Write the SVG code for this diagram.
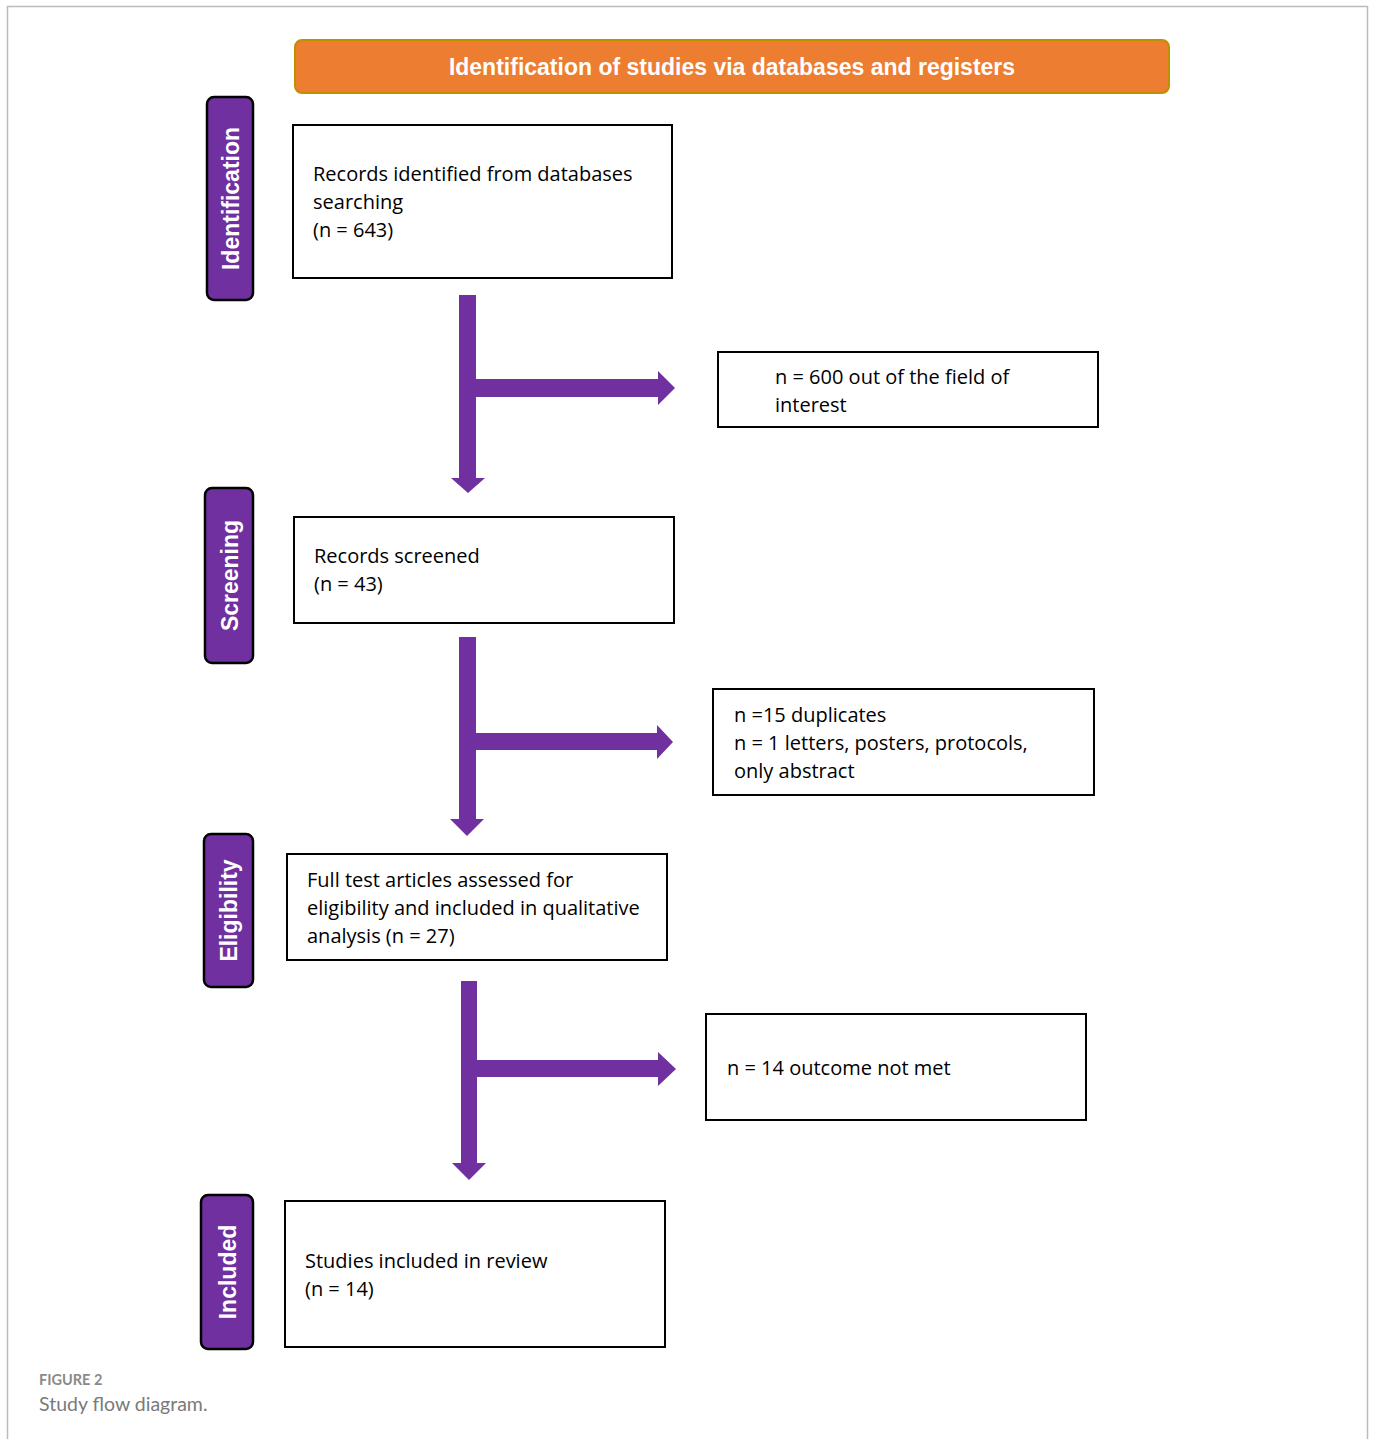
<svg xmlns="http://www.w3.org/2000/svg" width="1373" height="1439" viewBox="0 0 1373 1439">
<style>
.box{fill:#fff;stroke:#000;stroke-width:2}
.side{fill:#7030a0;stroke:#000;stroke-width:2.5}
.side-t{fill:#fff;font-family:"Liberation Sans",Arial,sans-serif;font-weight:bold;font-size:23px;text-anchor:middle}
.t{fill:#000;font-family:"Open Sans","Noto Sans",sans-serif;font-size:20px}
.arrow{fill:#7030a0}
</style>
<rect x="0" y="0" width="1373" height="1439" fill="#fff"/>
<path d="M7.5 1439 V6.5 H1367.5 V1439" fill="none" stroke="#bbb" stroke-width="1.5"/>
<g id="header">
<rect x="295" y="40" width="874" height="53" rx="7" fill="#ed7d31" stroke="#bf9000" stroke-width="2"/>
<text x="732" y="75" fill="#fff" font-family="Liberation Sans,Arial,sans-serif" font-weight="bold" font-size="23" text-anchor="middle">Identification of studies via databases and registers</text>
</g>
<g id="stage-identification">
<rect class="side" x="207" y="97" width="46" height="203" rx="7"/>
<text class="side-t" transform="translate(238.5,198.5) rotate(-90)">Identification</text>
</g>
<g id="stage-screening">
<rect class="side" x="205" y="488" width="48" height="175" rx="7"/>
<text class="side-t" transform="translate(237.5,575.5) rotate(-90)">Screening</text>
</g>
<g id="stage-eligibility">
<rect class="side" x="204" y="834" width="49" height="153" rx="7"/>
<text class="side-t" transform="translate(237,910.5) rotate(-90)">Eligibility</text>
</g>
<g id="stage-included">
<rect class="side" x="201" y="1195" width="52" height="154" rx="7"/>
<text class="side-t" transform="translate(235.5,1272) rotate(-90)">Included</text>
</g>
<g id="records-identified">
<rect class="box" x="293" y="125" width="379" height="153"/>
<text class="t" x="313" y="181">Records identified from databases</text>
<text class="t" x="313" y="209">searching</text>
<text class="t" x="313" y="237">(n = 643)</text>
</g>
<g id="excluded-field">
<rect class="box" x="718" y="352" width="380" height="75"/>
<text class="t" x="775" y="384">n = 600 out of the field of</text>
<text class="t" x="775" y="412">interest</text>
</g>
<g id="records-screened">
<rect class="box" x="294" y="517" width="380" height="106"/>
<text class="t" x="314" y="563">Records screened</text>
<text class="t" x="314" y="591">(n = 43)</text>
</g>
<g id="excluded-duplicates">
<rect class="box" x="713" y="689" width="381" height="106"/>
<text class="t" x="734" y="722">n =15 duplicates</text>
<text class="t" x="734" y="750">n = 1 letters, posters, protocols,</text>
<text class="t" x="734" y="778">only abstract</text>
</g>
<g id="full-text">
<rect class="box" x="287" y="854" width="380" height="106"/>
<text class="t" x="307" y="887">Full test articles assessed for</text>
<text class="t" x="307" y="915">eligibility and included in qualitative</text>
<text class="t" x="307" y="943">analysis (n = 27)</text>
</g>
<g id="excluded-outcome">
<rect class="box" x="706" y="1014" width="380" height="106"/>
<text class="t" x="727" y="1075">n = 14 outcome not met</text>
</g>
<g id="included-studies">
<rect class="box" x="285" y="1201" width="380" height="146"/>
<text class="t" x="305" y="1268">Studies included in review</text>
<text class="t" x="305" y="1296">(n = 14)</text>
</g>
<g id="connectors">
<polygon class="arrow" points="459,295 476,295 476,379 658,379 658,371 675,388 658,405 658,397 476,397 476,478 485,478 468,493 451,478 459,478"/>
<polygon class="arrow" points="459,637 476,637 476,733 657,733 657,725 673,742 657,759 657,750 476,750 476,819 484,819 467,836 450,819 459,819"/>
<polygon class="arrow" points="461,981 477,981 477,1060 658,1060 658,1052 676,1069 658,1086 658,1077 477,1077 477,1163 486,1163 469,1180 452,1163 461,1163"/>
</g>
<g id="caption">
<text x="39" y="1385" fill="#8a8a8a" font-family="Lato,'Open Sans',sans-serif" font-weight="bold" font-size="14.5">FIGURE 2</text>
<text x="39" y="1411" fill="#7a7a7a" font-family="Lato,'Open Sans',sans-serif" font-size="19.5">Study flow diagram.</text>
</g>
</svg>
